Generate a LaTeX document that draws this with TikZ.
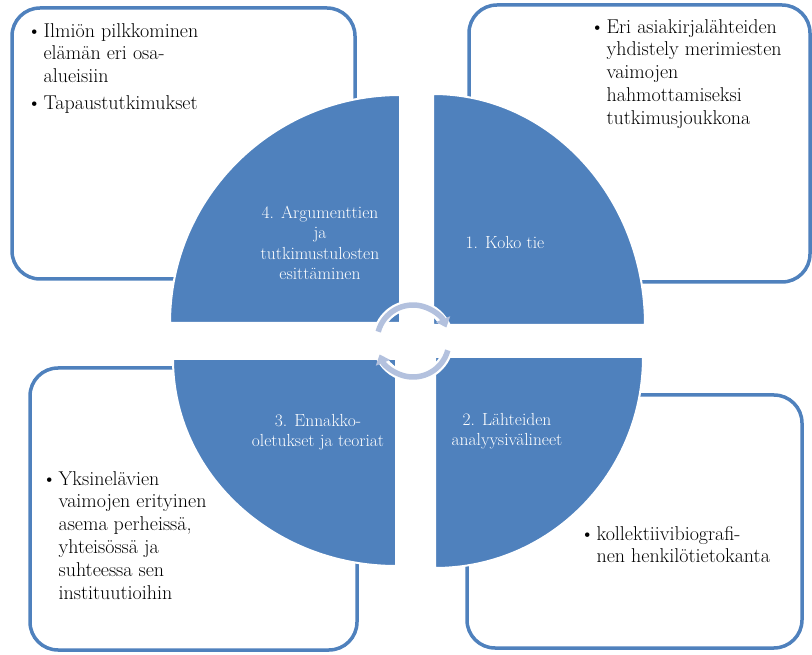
\documentclass[tikz,border=0pt]{standalone}
\usepackage{fontspec}
\usetikzlibrary{arrows.meta}
\definecolor{sectorblue}{HTML}{4F81BD}
\definecolor{ringblue}{HTML}{B3C1DE}
\tikzset{
  infobox/.style={draw=sectorblue, line width=3.5pt, fill=white, rounded corners=28pt},
  sector/.style={fill=sectorblue, draw=white, line width=2pt},
  boxtext/.style={anchor=north west, inner sep=0pt, text=black,
    font=\fontsize{20}{22.8}\selectfont},
  sectortext/.style={align=center, inner sep=0pt, text=white,
    font=\fontsize{17.5}{20.5}\selectfont},
  ringback/.style={draw=white, line width=10pt},
  ringfront/.style={draw=ringblue, line width=5.5pt, -{Triangle[width=15pt,length=9pt]}},
}
\begin{document}
\begin{tikzpicture}[x=1pt,y=1pt]
\useasboundingbox (0,0) rectangle (812,654);
% corner boxes
\path[infobox] (12,375) rectangle (355,646);
\path[infobox] (469,372) rectangle (810,649);
\path[infobox] (30,4) rectangle (357,286);
\path[infobox] (467,6) rectangle (802,259);
% the four quarters
\path[sector] (400,331) -- (170,331) arc[start angle=180, end angle=90, x radius=230, y radius=228] -- cycle;
\path[sector] (433,329) -- (433,560) arc[start angle=90, end angle=0, x radius=212, y radius=231] -- cycle;
\path[sector] (435,297) -- (643,297) arc[start angle=0, end angle=-90, x radius=208, y radius=211] -- cycle;
\path[sector] (396,295) -- (396,88) arc[start angle=270, end angle=180, x radius=223, y radius=207] -- cycle;
% ring in the middle
\coordinate (hub) at (413,313);
\path[ringback] ([shift={(165:36)}]hub) arc[start angle=165, end angle=22, radius=36];
\path[ringback] ([shift={(-15:36)}]hub) arc[start angle=-15, end angle=-158, radius=36];
\path[ringfront] ([shift={(165:36)}]hub) arc[start angle=165, end angle=22, radius=36];
\path[ringfront] ([shift={(-15:36)}]hub) arc[start angle=-15, end angle=-158, radius=36];
% labels of the quarters
\node[sectortext] (koko) at (505,411) {1. Koko tie};
\node[sectortext] (lahteet) at (507,223) {2. Lähteiden\\analyysivälineet};
\node[sectortext] (ennakko) at (318,222) {3. Ennakko-\\oletukset ja teoriat};
\node[sectortext] (argumentit) at (320,411) {4. Argumenttien\\ja\\tutkimustulosten\\esittäminen};
% box texts
\node[boxtext] (pilkkominen) at (27,633) {\begin{tabular}{@{}l@{\hspace{2pt}}l@{}}
\textbullet & Ilmiön pilkkominen\\
 & elämän eri osa-\\
 & alueisiin\\[4pt]
\textbullet & Tapaustutkimukset
\end{tabular}};
\node[boxtext] (yhdistely) at (590,637) {\begin{tabular}{@{}l@{\hspace{2pt}}l@{}}
\textbullet & Eri asiakirjalähteiden\\
 & yhdistely merimiesten\\
 & vaimojen\\
 & hahmottamiseksi\\
 & tutkimusjoukkona
\end{tabular}};
\node[boxtext] (asema) at (42,185) {\begin{tabular}{@{}l@{\hspace{2pt}}l@{}}
\textbullet & Yksinelävien\\
 & vaimojen erityinen\\
 & asema perheissä,\\
 & yhteisössä ja\\
 & suhteessa sen\\
 & instituutioihin
\end{tabular}};
\node[boxtext] (kanta) at (580,130) {\begin{tabular}{@{}l@{\hspace{2pt}}l@{}}
\textbullet & kollektiivibiografi-\\
 & nen henkilötietokanta
\end{tabular}};
\end{tikzpicture}
\end{document}
